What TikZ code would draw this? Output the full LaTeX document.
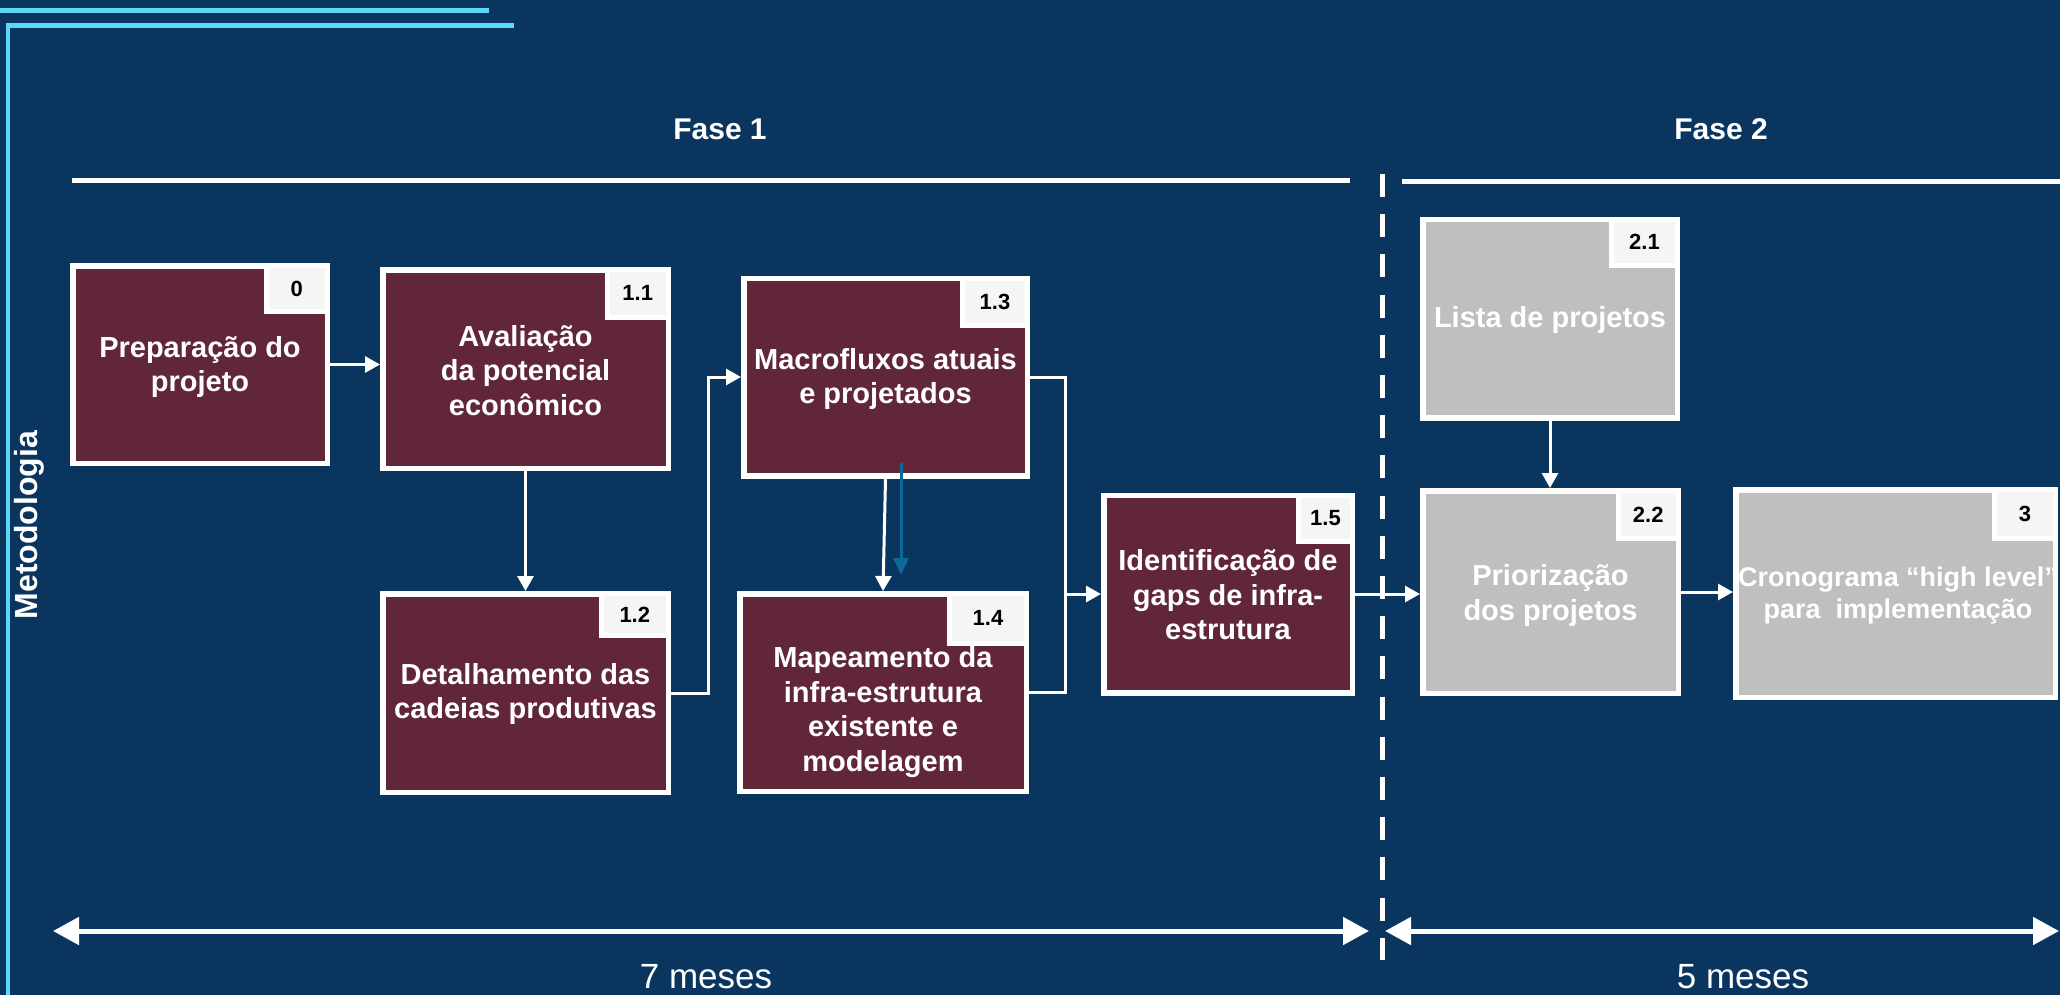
\documentclass[tikz,border=0pt]{standalone}
\usepackage{fontspec}
\setmainfont{Liberation Sans}
\usetikzlibrary{arrows.meta,calc}
\definecolor{bgnavy}{HTML}{09355F}
\definecolor{boxred}{HTML}{612739}
\definecolor{boxgray}{HTML}{BFBFBF}
\definecolor{tagfill}{HTML}{F5F5F5}
\definecolor{cyanline}{HTML}{5CD8F6}
\definecolor{tealarrow}{HTML}{0B6A98}
\tikzset{
  box/.style={draw=white, line width=5.5pt, fill=boxred, inner sep=0pt},
  gbox/.style={box, fill=boxgray},
  tag/.style={draw=white, line width=5pt, fill=tagfill, inner sep=0pt, anchor=north east,
    font=\fontsize{22}{26}\selectfont\bfseries, text=black},
  btxt/.style={text=white, font=\fontsize{29}{34.5}\selectfont\bfseries, align=center, inner sep=0pt},
  conn/.style={draw=white, line width=3pt, -{Triangle[length=15pt,width=16pt]}},
  plainconn/.style={draw=white, line width=3pt},
  tealconn/.style={draw=tealarrow, line width=3pt, -{Triangle[length=17pt,width=15pt]}},
  spanarrow/.style={draw=white, line width=5pt, {Triangle[length=26pt,width=27pt]}-{Triangle[length=26pt,width=27pt]}},
  phaseline/.style={draw=white, line width=5pt},
  phasetxt/.style={text=white, font=\fontsize{30}{36}\selectfont\bfseries},
  monthtxt/.style={text=white, font=\fontsize{35}{42}\selectfont, anchor=base, inner sep=0pt},
  cyanrule/.style={draw=cyanline, line width=4.4pt},
}
\begin{document}
\begin{tikzpicture}[x=1pt,y=-1pt]
\useasboundingbox (0,0) rectangle (2060,995);
\fill[bgnavy] (0,0) rectangle (2060,995);

% top-left cyan frame
\draw[cyanrule] (0,10.5) -- (489,10.5);
\draw[cyanrule] (513.6,25.5) -- (7.9,25.5) -- (7.9,1000);

% side title
\node[rotate=90, text=white, font=\fontsize{32}{38}\selectfont\bfseries] (met) at (29,525) {Metodologia};

% phase headings and rules
\node[phasetxt] (f1) at (720,129) {Fase 1};
\node[phasetxt] (f2) at (1721,129) {Fase 2};
\coordinate (p1a) at (72,181);
\coordinate (p1b) at (1350,181);
\coordinate (p2a) at (1402,182);
\coordinate (p2b) at (2060,182);
\draw[phaseline] (p1a) -- (p1b);
\draw[phaseline] (p2a) -- (p2b);

% dashed divider
\coordinate (dtop) at (1382.5,174);
\coordinate (dbot) at (1382.5,960);
\draw[white, line width=5.5pt, dash pattern=on 23pt off 17.2pt] (dtop) -- (dbot);

% boxes
\node[box, minimum width=254.5pt, minimum height=197.5pt] (b0) at (200,364.5) {};
\node[box, minimum width=285.5pt, minimum height=198.5pt] (b11) at (525.5,369) {};
\node[box, minimum width=285.5pt, minimum height=198.5pt] (b12) at (525.5,693) {};
\node[box, minimum width=283.5pt, minimum height=197.5pt] (b13) at (885.5,377) {};
\node[box, minimum width=286.5pt, minimum height=197.5pt] (b14) at (883,692.5) {};
\node[box, minimum width=248.5pt, minimum height=197.5pt] (b15) at (1228,594) {};
\node[gbox, minimum width=254.5pt, minimum height=198.5pt] (b21) at (1550,318.5) {};
\node[gbox, minimum width=255.5pt, minimum height=202.5pt] (b22) at (1550.5,592) {};
\node[gbox, minimum width=319.5pt, minimum height=207.5pt] (b3) at (1895.5,593.5) {};

% number tags
\node[tag, minimum width=61.4pt, minimum height=46.3pt] (t0) at (b0.north east) {0};
\node[tag, minimum width=61.5pt, minimum height=47.6pt] (t11) at (b11.north east) {1.1};
\node[tag, minimum width=67.4pt, minimum height=42pt] (t12) at (b12.north east) {1.2};
\node[tag, minimum width=65pt, minimum height=47.5pt] (t13) at (b13.north east) {1.3};
\node[tag, minimum width=77pt, minimum height=49.7pt] (t14) at (b14.north east) {1.4};
\node[tag, minimum width=54pt, minimum height=46.5pt] (t15) at (b15.north east) {1.5};
\node[tag, minimum width=66pt, minimum height=46.5pt] (t21) at (b21.north east) {2.1};
\node[tag, minimum width=60.5pt, minimum height=47.7pt] (t22) at (b22.north east) {2.2};
\node[tag, minimum width=61pt, minimum height=48.7pt] (t3) at (b3.north east) {3};

% box texts
\node[btxt] (x0) at (200,367) {Preparação do\\projeto};
\node[btxt] (x11) at (525.5,370.4) {Avaliação\\da potencial\\econômico};
\node[btxt] (x12) at (525.5,694) {Detalhamento das\\cadeias produtivas};
\node[btxt] (x13) at (885.5,379) {Macrofluxos atuais\\e projetados};
\node[btxt] (x14) at (883,712) {Mapeamento da\\infra-estrutura\\existente e\\modelagem};
\node[btxt] (x15) at (1228,595) {Identificação de\\gaps de infra-\\estrutura};
\node[btxt] (x21) at (1550,320) {Lista de projetos};
\node[btxt] (x22) at (1550.5,595.5) {Priorização\\dos projetos};
\node[btxt, font=\fontsize{27}{32}\selectfont\bfseries] (x3) at (1898,596) {Cronograma “high level”\\para\ \ implementação};

% connectors
\draw[conn] (b0.east) -- (b0.east -| b11.west);
\draw[conn] (b11.south) -- (b12.north);
\draw[conn] (b12.east) -- ++(37,0) |- (b13.west);
\draw[conn] (b13.south) -- (b14.north);
\coordinate (tA) at (901,463);
\coordinate (tB) at (901,575);
\draw[tealconn] (tA) -- (tB);
\coordinate (j) at (1065,594);
\draw[plainconn] (b13.east) -| (j);
\draw[plainconn] (b14.east) -| (j);
\draw[conn] (j) -- (j -| b15.west);
\draw[conn] (b15.east) -- (b15.east -| b22.west);
\draw[conn] (b21.south) -- (b21.south |- b22.north);
\draw[conn] (b22.east) -- (b22.east -| b3.west);

% duration arrows
\coordinate (l1) at (53,931);
\coordinate (r1) at (1369,931);
\coordinate (l2) at (1385,931);
\coordinate (r2) at (2059,931);
\draw[spanarrow] (l1) -- (r1);
\draw[spanarrow] (l2) -- (r2);
\node[monthtxt] (m5) at (1743,988) {5 meses};
\node[monthtxt] (m7) at (706,988) {7 meses};
\end{tikzpicture}
\end{document}
